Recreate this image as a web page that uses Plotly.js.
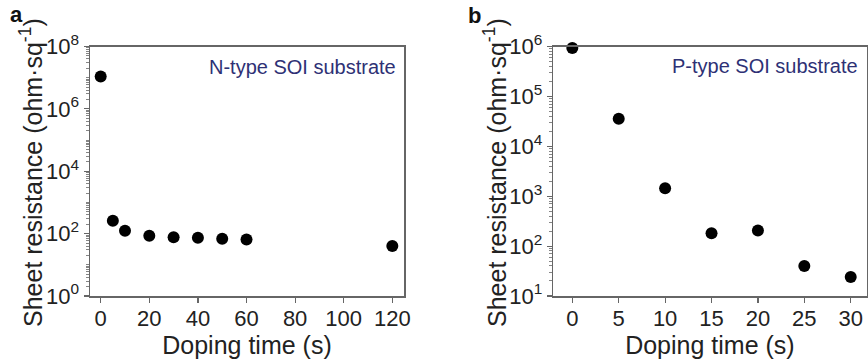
<!DOCTYPE html>
<html>
<head>
<meta charset="utf-8">
<script src="https://cdn.plot.ly/plotly-3.0.1.min.js"></script>
<style>html,body{margin:0;padding:0;background:#fff;}#chart{width:868px;height:360px;}</style>
</head>
<body>
<div id="chart"></div>
<script>
// Panel a: N-type SOI substrate
const timeA = [0, 5, 10, 20, 30, 40, 50, 60, 120];
const resA = [1.1e7, 257, 123, 85, 77, 74, 68, 65, 40];
// Panel b: P-type SOI substrate
const timeB = [0, 5, 10, 15, 20, 25, 30];
const resB = [9.3e5, 3.55e4, 1450, 181, 205, 40, 24];
const ticksA = [0, 20, 40, 60, 80, 100, 120];
const ticksB = [0, 5, 10, 15, 20, 25, 30];
const yExpA = [0, 2, 4, 6, 8];
const yExpB = [1, 2, 3, 4, 5, 6];
const labelA = "N-type SOI substrate";
const labelB = "P-type SOI substrate";
const xTitle = "Doping time (s)";
const yTitle = "Sheet resistance (ohm·sq<sup>-1</sup>)";

const FONT = "Arial, 'Liberation Sans', sans-serif";
const axisCol = "#666";
const marker = {color: "#000", size: 12};

function minorVals(lo, hi) {
  const v = [];
  for (let e = lo; e < hi; e++) for (let m = 1; m < 10; m++) v.push(m * Math.pow(10, e));
  v.push(Math.pow(10, hi));
  return v;
}

const traces = [
  {x: timeA, y: resA, xaxis: "x", yaxis: "y", type: "scatter", mode: "markers", marker: marker, cliponaxis: false, hoverinfo: "skip"},
  {x: timeB, y: resB, xaxis: "x2", yaxis: "y2", type: "scatter", mode: "markers", marker: marker, cliponaxis: false, hoverinfo: "skip"},
  {x: [null], y: [null], xaxis: "x", yaxis: "y3", type: "scatter", mode: "markers", hoverinfo: "skip"},
  {x: [null], y: [null], xaxis: "x2", yaxis: "y4", type: "scatter", mode: "markers", hoverinfo: "skip"}
];

function xAx(domain, range, ticks, anchor) {
  return {
    domain: domain, range: range, tickvals: ticks, ticktext: ticks.map(String), anchor: anchor,
    showgrid: false, zeroline: false, showline: true, linecolor: axisCol, linewidth: 1.5, mirror: true,
    ticks: "outside", ticklen: 5, tickcolor: axisCol, tickwidth: 1.2,
    ticklabelstandoff: -3,
    tickfont: {family: FONT, size: 22, color: "#222"},
    title: {text: xTitle, font: {family: FONT, size: 25, color: "#222"}, standoff: 4}
  };
}
function yAx(domain, exps, anchor) {
  return {
    domain: domain, type: "log", range: [exps[0], exps[exps.length - 1]],
    tickvals: exps.map(e => Math.pow(10, e)),
    ticktext: exps.map(e => "10<sup>" + e + "</sup>"),
    anchor: anchor,
    showgrid: false, zeroline: false, showline: true, linecolor: axisCol, linewidth: 1.5, mirror: true,
    ticks: "outside", ticklen: 5, tickcolor: axisCol, tickwidth: 1.2,
    tickfont: {family: FONT, size: 22, color: "#222"}
  };
}
function yMinor(domain, exps, overlay, anchor) {
  return {
    domain: domain, type: "log", range: [exps[0], exps[exps.length - 1]],
    overlaying: overlay, anchor: anchor, side: "left",
    tickvals: minorVals(exps[0], exps[exps.length - 1]),
    showticklabels: false, showgrid: false, zeroline: false, showline: false,
    ticks: "outside", ticklen: 3, tickcolor: axisCol, tickwidth: 0.8
  };
}

const yDom = [64/360, 313.5/360];
const layout = {
  width: 868, height: 360,
  margin: {l: 0, r: 0, t: 0, b: 0},
  paper_bgcolor: "#fff", plot_bgcolor: "#fff",
  showlegend: false,
  font: {family: FONT, color: "#222"},
  xaxis: xAx([90/868, 404/868], [-4.4, 124.8], ticksA, "y"),
  yaxis: yAx(yDom, yExpA, "x"),
  yaxis3: yMinor(yDom, yExpA, "y", "x"),
  xaxis2: xAx([553.3/868, 866.5/868], [-2.05, 31.7], ticksB, "y2"),
  yaxis2: yAx(yDom, yExpB, "x2"),
  yaxis4: yMinor(yDom, yExpB, "y2", "x2"),
  annotations: [
    {text: labelA, xref: "paper", yref: "paper", x: 302.5/868, y: 1 - 67/360, xanchor: "center", yanchor: "middle", showarrow: false, font: {family: FONT, size: 20, color: "#2e3175"}},
    {text: labelB, xref: "paper", yref: "paper", x: 765/868, y: 1 - 66/360, xanchor: "center", yanchor: "middle", showarrow: false, font: {family: FONT, size: 20, color: "#2e3175"}},
    {text: yTitle, xref: "paper", yref: "paper", x: 31/868, y: 1 - 173/360, xanchor: "center", yanchor: "middle", textangle: -90, showarrow: false, font: {family: FONT, size: 25, color: "#222"}},
    {text: yTitle, xref: "paper", yref: "paper", x: 495/868, y: 1 - 173/360, xanchor: "center", yanchor: "middle", textangle: -90, showarrow: false, font: {family: FONT, size: 25, color: "#222"}},
    {text: "<b>a</b>", xref: "paper", yref: "paper", x: 16/868, y: 1 - 15/360, xanchor: "center", yanchor: "middle", showarrow: false, font: {family: FONT, size: 22, color: "#111"}},
    {text: "<b>b</b>", xref: "paper", yref: "paper", x: 474/868, y: 1 - 16/360, xanchor: "center", yanchor: "middle", showarrow: false, font: {family: FONT, size: 22, color: "#111"}}
  ]
};

Plotly.newPlot("chart", traces, layout, {staticPlot: true, displayModeBar: false});
</script>
</body>
</html>
